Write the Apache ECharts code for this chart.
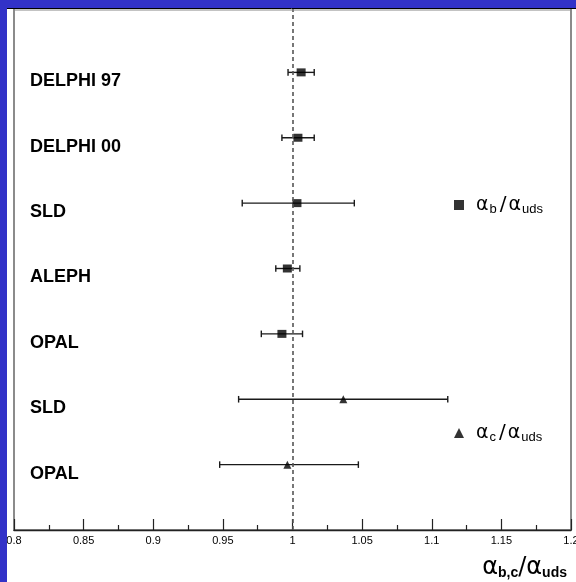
<!DOCTYPE html>
<html>
<head>
<meta charset="utf-8">
<script src="https://cdn.jsdelivr.net/npm/echarts@6/dist/echarts.min.js"></script>
<style>html,body{margin:0;padding:0;background:#fff}#c{width:576px;height:582px}</style>
</head>
<body>
<div id="c"></div>
<script>
// Row labels (top to bottom) and their positions on the vertical axis
const experiments = ['DELPHI 97', 'DELPHI 00', 'SLD', 'ALEPH', 'OPAL', 'SLD', 'OPAL'];
const rowPos = [7, 6, 5, 4, 3, 2, 1];

// alpha_b / alpha_uds measurements (rows 7..3)
const bRows = [7, 6, 5, 4, 3];
const bCentral = [1.0062, 1.0039, 1.0032, 0.9963, 0.9924];
const bLow = [0.9968, 0.9924, 0.9639, 0.9880, 0.9776];
const bHigh = [1.0156, 1.0156, 1.0444, 1.0053, 1.0072];

// alpha_c / alpha_uds measurements (rows 2..1)
const cRows = [2, 1];
const cCentral = [1.0365, 0.9963];
const cLow = [0.9613, 0.9477];
const cHigh = [1.1115, 1.0473];

const refValue = 1;
const xTicks = { min: 0.8, max: 1.2, interval: 0.05 };

const chart = echarts.init(document.getElementById('c'), null, { renderer: 'canvas' });

function errBar(params, api) {
  const y = api.value(2);
  const lo = api.coord([api.value(0), y]);
  const hi = api.coord([api.value(1), y]);
  const h = 3.3;
  const style = { stroke: '#1a1a1a', lineWidth: 1.4 };
  return {
    type: 'group',
    children: [
      { type: 'line', shape: { x1: lo[0], y1: lo[1], x2: hi[0], y2: hi[1] }, style },
      { type: 'line', shape: { x1: lo[0], y1: lo[1] - h, x2: lo[0], y2: lo[1] + h }, style },
      { type: 'line', shape: { x1: hi[0], y1: hi[1] - h, x2: hi[0], y2: hi[1] + h }, style }
    ]
  };
}

const bBars = bRows.map((r, i) => [bLow[i], bHigh[i], r]);
const cBars = cRows.map((r, i) => [cLow[i], cHigh[i], r]);
const bPts = bRows.map((r, i) => [bCentral[i], r]);
const cPts = cRows.map((r, i) => [cCentral[i], r]);

const legendRich = {
  a0: { fontFamily: 'DejaVu Sans', fontSize: 19, color: '#000', padding: [0, 0, 0, 7] },
  a: { fontFamily: 'DejaVu Sans', fontSize: 19, color: '#000' },
  s: { fontFamily: 'Liberation Sans', fontSize: 13, color: '#000', padding: [9, 2, 0, 1] },
  sl: { fontFamily: 'DejaVu Sans', fontSize: 20, color: '#000', padding: [0, 2, 0, 1] }
};

chart.setOption({
  animation: false,
  backgroundColor: '#ffffff',
  grid: { left: 14, right: 5, top: 7, bottom: 52, outerBoundsMode: 'none', containLabel: false,
          show: true, borderColor: '#666', borderWidth: 1.5, backgroundColor: 'transparent' },
  title: {
    right: 4, bottom: -3,
    text: '{a|α}{s|b,c}{a|/α}{s|uds}',
    textStyle: {
      fontWeight: 'normal',
      rich: {
        a: { fontFamily: 'DejaVu Sans', fontSize: 24, fontWeight: 'normal', color: '#000' },
        s: { fontFamily: 'Liberation Sans', fontSize: 14, fontWeight: 'bold', color: '#000', padding: [11, 0, 0, 0] }
      }
    }
  },
  legend: [
    {
      data: ['b'], left: 449, top: 190, itemWidth: 10, itemHeight: 10,
      formatter: () => '{a0|α}{s|b}{sl|/}{a|α}{s|uds}',
      textStyle: { rich: legendRich }, selectedMode: false
    },
    {
      data: ['c'], left: 449, top: 418, itemWidth: 10, itemHeight: 10,
      formatter: () => '{a0|α}{s|c}{sl|/}{a|α}{s|uds}',
      textStyle: { rich: legendRich }, selectedMode: false
    }
  ],
  xAxis: {
    type: 'value', min: xTicks.min, max: xTicks.max, interval: xTicks.interval,
    axisLine: { show: true, lineStyle: { color: '#222', width: 1.4 } },
    axisTick: { show: true, inside: true, length: 11, lineStyle: { color: '#222', width: 1.2 } },
    minorTick: { show: true, splitNumber: 2, length: 5, lineStyle: { color: '#222', width: 1.2 } },
    splitLine: { show: false },
    axisLabel: { color: '#000', fontFamily: 'Liberation Sans', fontSize: 11, margin: 5, showMinLabel: true, showMaxLabel: true, hideOverlap: false }
  },
  yAxis: {
    type: 'value', min: 0, max: 8, interval: 1,
    axisLine: { show: false }, axisTick: { show: false }, splitLine: { show: false },
    axisLabel: {
      inside: true, margin: 16, verticalAlign: 'top',
      customValues: rowPos,
      formatter: (v) => { const i = rowPos.indexOf(v); return i >= 0 ? experiments[i] : ''; },
      color: '#000', fontFamily: 'Liberation Sans', fontWeight: 'bold', fontSize: 18, padding: [0, 0, 0, 0]
    }
  },
  graphic: [
    { type: 'rect', z: 100, shape: { x: 0, y: 0, width: 576, height: 8 }, style: { fill: '#3232c8' } },
    { type: 'rect', z: 100, shape: { x: 0, y: 0, width: 7, height: 582 }, style: { fill: '#3232c8' } },
    { type: 'line', z: 99, shape: { x1: 7, y1: 8.5, x2: 576, y2: 8.5 }, style: { stroke: '#000', lineWidth: 1 } },
    { type: 'line', z: 99, shape: { x1: 14, y1: 10, x2: 571, y2: 10 }, style: { stroke: '#888', lineWidth: 1 } }
  ],
  series: [
    {
      type: 'custom', name: 'bErr', renderItem: errBar, data: bBars,
      encode: { x: [0, 1], y: 2 }, silent: true, z: 2,
      markLine: {
        symbol: 'none', silent: true, label: { show: false },
        lineStyle: { color: '#555', type: [4, 3], width: 1.6 },
        data: [{ xAxis: refValue }]
      }
    },
    { type: 'custom', name: 'cErr', renderItem: errBar, data: cBars, encode: { x: [0, 1], y: 2 }, silent: true, z: 2 },
    { type: 'scatter', name: 'b', data: bPts, symbol: 'rect', symbolSize: [9, 8], itemStyle: { color: '#000' }, z: 3 },
    { type: 'scatter', name: 'c', data: cPts, symbol: 'triangle', symbolSize: 8, itemStyle: { color: '#000' }, z: 3 }
  ]
});
</script>
</body>
</html>
